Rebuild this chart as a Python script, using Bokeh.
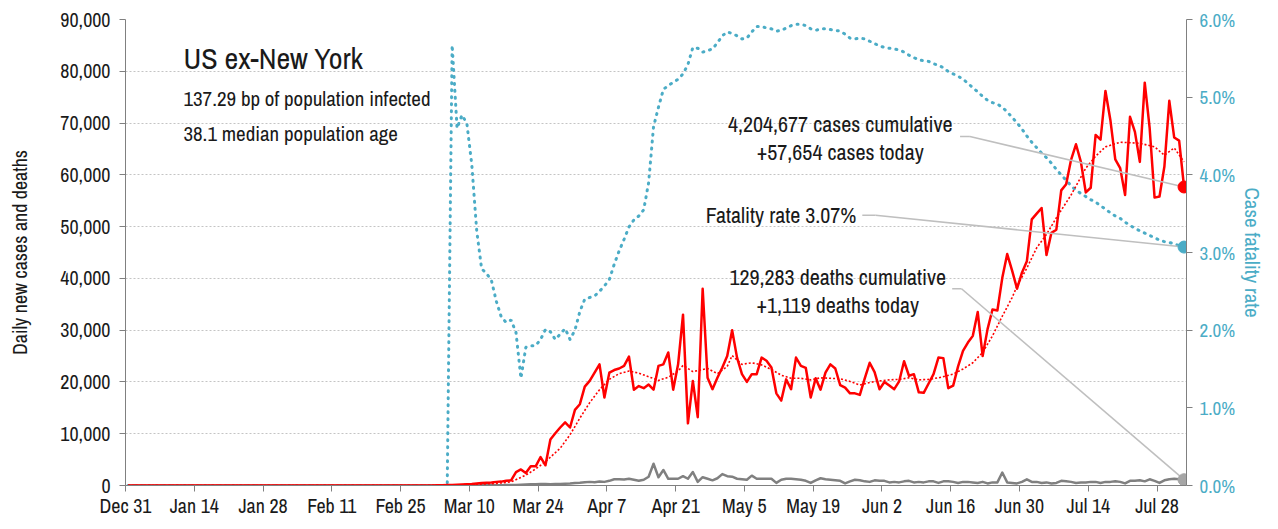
from datetime import datetime, timedelta
from bokeh.plotting import figure
from bokeh.models import (Range1d, LinearAxis, FixedTicker, NumeralTickFormatter,
                          PrintfTickFormatter, Label)
from bokeh.embed import file_html
from bokeh.resources import INLINE

FONT = "Archivo Narrow"
BLUE = "#4bacc6"
RED = "#ff0000"
GRAY = "#808080"
LEAD = "#bfbfbf"
INK = "#1a1a1a"

# ---------------- data ----------------
first_day = "2019-12-31"
range_end = "2020-08-03"

# daily new cases, Dec 31 2019 .. Aug 2 2020
cases = [
    0, 0, 0, 0, 0, 0, 0, 0, 0, 0,
    0, 0, 0, 0, 0, 0, 0, 0, 0, 0,
    0, 0, 0, 0, 0, 0, 0, 0, 0, 0,
    0, 0, 0, 0, 0, 0, 0, 0, 0, 0,
    0, 0, 0, 0, 0, 0, 0, 0, 0, 0,
    0, 0, 0, 0, 0, 0, 0, 0, 0, 0,
    0,
    0, 20, 30, 50, 80, 100, 150, 200, 250, 300,
    400, 500, 550, 600, 700, 750, 900, 1000, 2600, 3100,
    2400, 3700, 3700, 5500, 3900, 8900, 10100, 11200, 12200, 11200,
    14600, 15700, 19100, 20200, 21800, 23400, 17000, 21800, 22300, 22600,
    23100, 24900, 18500, 19200, 18800, 19500, 18500, 23100, 23400, 25700,
    18500, 23400, 33000, 12000, 20200, 13200, 38000, 20800, 18600, 20800,
    22800, 25000, 30000, 24700, 21500, 20000, 21500, 21500, 24700, 24100,
    22800, 17800, 16400, 20500, 18600, 24700, 23100, 22700, 17000, 20700,
    18500, 21800, 23400, 22600, 19400, 18900, 17800, 17800, 17500, 20700,
    23700, 21900, 18600, 20000, 19300, 18600, 20100, 24000, 21200, 21500,
    18000, 17900, 19700, 21500, 24700, 24600, 18800, 19300, 23000, 26000,
    27600, 28900, 33500, 25000, 30200, 34000, 33800, 40100, 44700, 41500,
    38000, 41100, 43300, 51400, 52500, 53600, 44500, 48800, 49400, 57000,
    58200, 62900, 65900, 62500, 56600, 57500, 67700, 66800, 76200, 70600,
    63000, 61300, 56100, 71200, 68300, 62500, 77800, 69000, 55600, 55800,
    61600, 74300, 67200, 66600, 57654,
]

# daily new deaths, same dates
deaths = [
    0, 0, 0, 0, 0, 0, 0, 0, 0, 0,
    0, 0, 0, 0, 0, 0, 0, 0, 0, 0,
    0, 0, 0, 0, 0, 0, 0, 0, 0, 0,
    0, 0, 0, 0, 0, 0, 0, 0, 0, 0,
    0, 0, 0, 0, 0, 0, 0, 0, 0, 0,
    0, 0, 0, 0, 0, 0, 0, 0, 0, 0,
    0,
    0, 0, 1, 2, 3, 5, 8, 10, 12, 15,
    20, 25, 30, 40, 50, 60, 80, 100, 120, 150,
    200, 230, 250, 280, 300, 250, 300, 300, 350, 400,
    500, 550, 650, 700, 650, 750, 700, 900, 1200, 1200,
    1150, 1300, 1100, 900, 1100, 1700, 4200, 1600, 3000, 1300,
    1300, 1300, 1800, 1300, 2600, 700, 1600, 1300, 1000, 1400,
    2200, 1800, 1700, 1300, 1200, 1100, 1900, 1300, 1300, 1300,
    1300, 500, 1100, 1300, 1300, 1200, 1100, 900, 500, 1000,
    1400, 1200, 1100, 1000, 900, 400, 800, 1100, 1000, 800,
    700, 1000, 900, 900, 600, 700, 600, 800, 900, 600,
    700, 600, 800, 800, 500, 800, 800, 700, 500, 700,
    700, 600, 500, 700, 400, 600, 600, 2500, 600, 500,
    400, 700, 1200, 700, 700, 500, 600, 400, 500, 900,
    800, 700, 500, 600, 600, 700, 700, 500, 700, 700,
    800, 700, 400, 900, 900, 1000, 800, 1200, 900, 500,
    1000, 1200, 1300, 1200, 1119,
]

# case fatality rate (%), same dates
cfr_pct = [
    0, 0, 0, 0, 0, 0, 0, 0, 0, 0,
    0, 0, 0, 0, 0, 0, 0, 0, 0, 0,
    0, 0, 0, 0, 0, 0, 0, 0, 0, 0,
    0, 0, 0, 0, 0, 0, 0, 0, 0, 0,
    0, 0, 0, 0, 0, 0, 0, 0, 0, 0,
    0, 0, 0, 0, 0, 0, 0, 0, 0, 0,
    0, 0, 0, 0, 0, 0,
    5.67, 4.60, 4.77, 4.66, 4.13,
    3.28, 2.79, 2.73, 2.64, 2.37, 2.17, 2.10, 2.13, 1.97, 1.38,
    1.78, 1.80, 1.80, 1.88, 2.01, 1.98, 1.88, 1.95, 2.02, 1.88,
    2.00, 2.24, 2.40, 2.42, 2.44, 2.50, 2.57, 2.65, 2.85, 3.02,
    3.17, 3.33, 3.42, 3.47, 3.55, 3.90, 4.62, 4.87, 5.10, 5.15,
    5.19, 5.23, 5.30, 5.42, 5.64, 5.63, 5.58, 5.60, 5.62, 5.70,
    5.79, 5.84, 5.82, 5.79, 5.75, 5.76, 5.84, 5.91, 5.91, 5.89,
    5.88, 5.85, 5.86, 5.89, 5.92, 5.94, 5.94, 5.92, 5.88, 5.86,
    5.88, 5.88, 5.87, 5.86, 5.85, 5.81, 5.76, 5.75, 5.76, 5.75,
    5.72, 5.69, 5.66, 5.64, 5.63, 5.62, 5.61, 5.58, 5.54, 5.51,
    5.48, 5.47, 5.46, 5.43, 5.41, 5.38, 5.33, 5.30, 5.27, 5.23,
    5.18, 5.12, 5.07, 5.01, 4.96, 4.93, 4.91, 4.87, 4.81, 4.74,
    4.67, 4.59, 4.50, 4.42, 4.35, 4.28, 4.22, 4.15, 4.07, 4.00,
    3.93, 3.86, 3.80, 3.76, 3.72, 3.68, 3.65, 3.60, 3.56, 3.51,
    3.47, 3.44, 3.39, 3.35, 3.31, 3.28, 3.25, 3.22, 3.19, 3.16,
    3.14, 3.13, 3.11, 3.09, 3.07,
]

# smoothed trend of daily cases (red dotted)
trend_dates = [
    "2019-12-31", "2020-03-01", "2020-03-10", "2020-03-15", "2020-03-18",
    "2020-03-21", "2020-03-23", "2020-03-25", "2020-03-28", "2020-03-30",
    "2020-04-01", "2020-04-03", "2020-04-05", "2020-04-07", "2020-04-09",
    "2020-04-11", "2020-04-13", "2020-04-15", "2020-04-17", "2020-04-19",
    "2020-04-21", "2020-04-22", "2020-04-24", "2020-04-27", "2020-04-29",
    "2020-05-01", "2020-05-02", "2020-05-04", "2020-05-06", "2020-05-08",
    "2020-05-10", "2020-05-12", "2020-05-14", "2020-05-16", "2020-05-18",
    "2020-05-20", "2020-05-22", "2020-05-24", "2020-05-26", "2020-05-28",
    "2020-05-30", "2020-06-01", "2020-06-03", "2020-06-05", "2020-06-07",
    "2020-06-09", "2020-06-11", "2020-06-13", "2020-06-16", "2020-06-18",
    "2020-06-20", "2020-06-22", "2020-06-24", "2020-06-26", "2020-06-28",
    "2020-06-29", "2020-07-01", "2020-07-03", "2020-07-05", "2020-07-07",
    "2020-07-10", "2020-07-13", "2020-07-15", "2020-07-17", "2020-07-20",
    "2020-07-24", "2020-07-27", "2020-07-29", "2020-07-31", "2020-08-02",
]
trend_cases = [
    0, 0, 200, 400, 700,
    2000, 3200, 4600, 7200, 9800,
    13000, 16000, 18500, 20500, 21600,
    22100, 21700, 21000, 20300, 20900,
    22100, 23200, 22000, 22600, 21600,
    23000, 25100, 23400, 23700, 23300,
    22400, 21300, 20700, 20700, 20400,
    20800, 20700, 20600, 20100, 19400,
    19900, 20200, 20400, 20500, 20800,
    20400, 20500, 20800, 21500, 22500,
    23700, 25700, 28900, 32700, 36300,
    38500, 42000, 45900, 48500, 51700,
    56100, 61300, 63600, 65400, 66300,
    66100, 65400, 63800, 65200, 62500,
]

tick_dates = ["2019-12-31", "2020-01-14", "2020-01-28", "2020-02-11", "2020-02-25",
              "2020-03-10", "2020-03-24", "2020-04-07", "2020-04-21", "2020-05-05",
              "2020-05-19", "2020-06-02", "2020-06-16", "2020-06-30", "2020-07-14",
              "2020-07-28"]
tick_labels = ["Dec 31", "Jan 14", "Jan 28", "Feb 11", "Feb 25", "Mar 10", "Mar 24",
               "Apr 7", "Apr 21", "May 5", "May 19", "Jun 2", "Jun 16", "Jun 30",
               "Jul 14", "Jul 28"]
case_ticks = [0, 10000, 20000, 30000, 40000, 50000, 60000, 70000, 80000, 90000]
cfr_ticks = [0, 1, 2, 3, 4, 5, 6]

left_title = "Daily new cases and deaths"
right_title = "Case fatality rate"
title_text = "US ex-New York"
info_lines = ["137.29 bp of population infected", "38.1 median population age"]
cases_note = ["4,204,677 cases cumulative", "+57,654 cases today"]
cfr_note = "Fatality rate 3.07%"
deaths_note = ["129,283 deaths cumulative", "+1,119 deaths today"]

# ---------------- helpers ----------------
EPOCH = datetime(1970, 1, 1)
T0 = datetime.strptime(first_day, "%Y-%m-%d")


def ms(dt):
    return (dt - EPOCH).total_seconds() * 1000.0


def day(d):
    return ms(T0 + timedelta(days=d))


def parse(s):
    return datetime.strptime(s, "%Y-%m-%d")


dates = [ms(T0 + timedelta(days=i, hours=12)) for i in range(len(cases))]
cfr_dates = [ms(T0 + timedelta(days=i, hours=12)) for i in range(len(cfr_pct))]
death_dates = [ms(T0 + timedelta(days=i, hours=12)) for i in range(len(deaths))]
trend_x = [ms(parse(s) + timedelta(hours=12)) for s in trend_dates]
tick_x = [ms(parse(s)) for s in tick_dates]

# ---------------- figure ----------------
p = figure(width=1270, height=521, x_axis_type="datetime",
           x_range=Range1d(ms(T0), ms(parse(range_end))),
           y_range=Range1d(0, case_ticks[-1]),
           output_backend="svg", toolbar_location=None,
           min_border_left=125, min_border_right=77,
           min_border_top=19, min_border_bottom=34)
p.extra_y_ranges = {"cfr": Range1d(0, cfr_ticks[-1])}
p.outline_line_color = None
p.background_fill_color = "white"
p.border_fill_color = "white"

# x axis
xa = p.xaxis[0]
xa.ticker = FixedTicker(ticks=tick_x, minor_ticks=[])
xa.major_label_overrides = {t: l for t, l in zip(tick_x, tick_labels)}
xa.axis_line_color = GRAY
xa.major_tick_line_color = GRAY
xa.major_tick_out = 6
xa.major_tick_in = 0
xa.minor_tick_line_color = None
xa.major_label_text_font = FONT
xa.major_label_text_font_size = "20px"
xa.major_label_text_color = INK
xa.major_label_standoff = 0

# left axis
ya = p.yaxis[0]
ya.ticker = FixedTicker(ticks=case_ticks, minor_ticks=[])
ya.formatter = NumeralTickFormatter(format="0,0")
ya.axis_line_color = GRAY
ya.major_tick_line_color = GRAY
ya.major_tick_out = 6
ya.major_tick_in = 0
ya.minor_tick_line_color = None
ya.major_label_text_font = FONT
ya.major_label_text_font_size = "20px"
ya.major_label_text_color = INK
ya.major_label_standoff = 9
ya.axis_label = left_title
ya.axis_label_text_font = FONT
ya.axis_label_text_font_size = "20px"
ya.axis_label_text_font_style = "normal"
ya.axis_label_text_color = INK
ya.axis_label_standoff = 24

# right axis
ra = LinearAxis(y_range_name="cfr",
                ticker=FixedTicker(ticks=cfr_ticks, minor_ticks=[]),
                formatter=PrintfTickFormatter(format="%.1f%%"))
ra.axis_line_color = GRAY
ra.major_tick_line_color = GRAY
ra.major_tick_out = 6
ra.major_tick_in = 0
ra.minor_tick_line_color = None
ra.major_label_text_font = FONT
ra.major_label_text_font_size = "19px"
ra.major_label_text_color = BLUE
ra.major_label_standoff = 7
ra.axis_label = right_title
ra.axis_label_text_font = FONT
ra.axis_label_text_font_size = "21px"
ra.axis_label_text_font_style = "normal"
ra.axis_label_text_color = BLUE
ra.axis_label_standoff = 0
p.add_layout(ra, "right")

p.xgrid.visible = False
p.ygrid.grid_line_color = "#c4c4c4"
p.ygrid.grid_line_dash = "2 2"
p.ygrid.grid_line_width = 1

# ---------------- series ----------------
p.line(cfr_dates, cfr_pct, y_range_name="cfr", color=BLUE, line_width=3,
       line_dash="1 6", line_cap="round")
p.line(death_dates, deaths, color=GRAY, line_width=2.5, line_join="round")
p.line(dates, cases, color=RED, line_width=2.5, line_join="round")
p.line(trend_x, trend_cases, color=RED, line_width=1.6, line_dash="2 2")

# ---------------- leader lines ----------------
p.segment(x0=[day(169.9), day(171.9)], y0=[67400, 67400],
          x1=[day(171.9), dates[-1]], y1=[67400, cases[-1]],
          color=LEAD, line_width=1.6)
p.segment(x0=[day(150.0), day(152.7)], y0=[3.48, 3.48],
          x1=[day(152.7), cfr_dates[-1]], y1=[3.48, cfr_pct[-1]],
          y_range_name="cfr", color=LEAD, line_width=1.6)
p.segment(x0=[day(168.3), day(170.2)], y0=[38000, 38000],
          x1=[day(170.2), death_dates[-1]], y1=[38000, deaths[-1]],
          color=LEAD, line_width=1.6)

# end markers
p.scatter([dates[-1]], [cases[-1]], size=12, color=RED)
p.scatter([cfr_dates[-1]], [cfr_pct[-1]], size=12, color=BLUE, y_range_name="cfr")
p.scatter([death_dates[-1]], [deaths[-1]], size=12, color="#a6a6a6")


# ---------------- labels ----------------
def add_label(x, y, text, size, align="left", color=INK):
    p.add_layout(Label(x=x, y=y, text=text, text_font=FONT, text_font_size=size,
                       text_align=align, text_baseline="middle", text_color=color))


add_label(day(11.8), 82600, title_text, "30px")
add_label(day(11.8), 74800, info_lines[0], "21px")
add_label(day(11.8), 67900, info_lines[1], "21px")
add_label(day(145.5), 69900, cases_note[0], "22px", "center")
add_label(day(145.5), 64500, cases_note[1], "22px", "center")
add_label(day(148.8), 52200, cfr_note, "22px", "right")
add_label(day(145.0), 40300, deaths_note[0], "22px", "center")
add_label(day(145.0), 34900, deaths_note[1], "22px", "center")

open("out.html", "w").write(file_html(p, INLINE))
